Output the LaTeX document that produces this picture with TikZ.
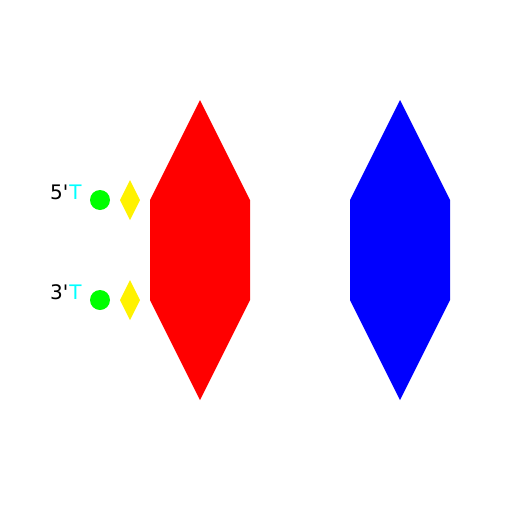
\documentclass[tikz,border=0pt]{standalone}
\usepackage{fontspec}
\setmainfont{DejaVu Sans}[Ligatures=TeXOff]
\usetikzlibrary {math}

\definecolor{tcyan}{RGB}{0,255,255}

\begin{document}
\begin{tikzpicture}[x=1pt, y=-1pt]
    \useasboundingbox (0, 0) rectangle (512, 512);

    \tikzmath{
        \w = 50;
        \h = 100;
    };

    \begin{scope}[shift={(200,250)}]
        \fill[red] (0, {-1.5*\h}) -- (\w, {-0.5*\h}) -- (\w, {0.5*\h}) -- (0, {1.5*\h})
            -- (-\w, {0.5*\h}) -- (-\w, {-0.5*\h}) -- cycle;
    \end{scope}

    \begin{scope}[shift={(400,250)}]
        \fill[blue] (0, {-1.5*\h}) -- (\w, {-0.5*\h}) -- (\w, {0.5*\h}) -- (0, {1.5*\h})
            -- (-\w, {0.5*\h}) -- (-\w, {-0.5*\h}) -- cycle;
    \end{scope}

    \foreach \y/\lab in {200/5, 300/3} {
        \fill[green] (100, \y) circle (10);
        \fill[yellow] (130, {\y-20}) -- (140, \y) -- (130, {\y+20}) -- (120, \y) -- cycle;
        \node[anchor=base west, inner sep=0pt, font=\fontsize{20}{22}\selectfont] (end\lab) at (50, {\y-1})
            {\lab'\hspace{1pt}\textcolor{tcyan}{T}};
    }
\end{tikzpicture}
\end{document}
